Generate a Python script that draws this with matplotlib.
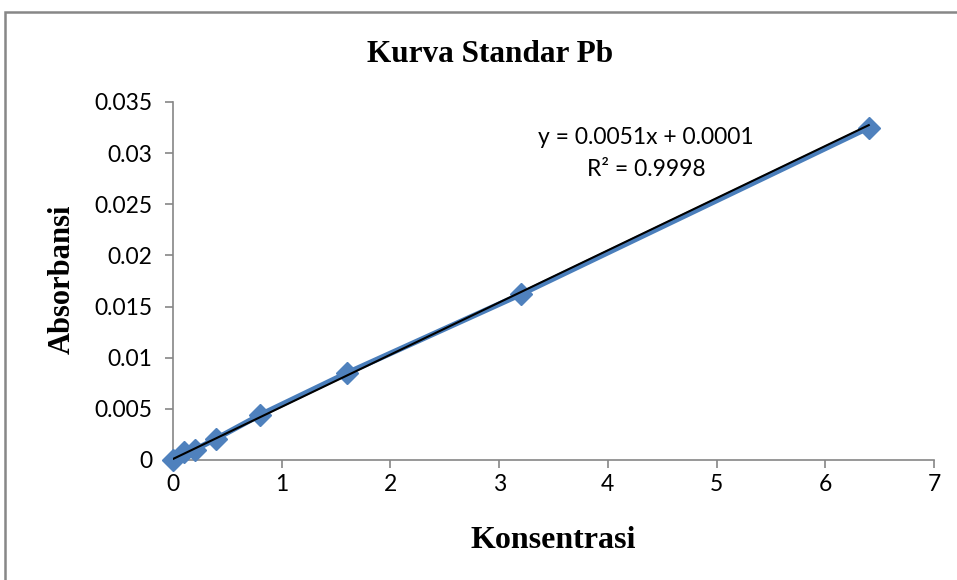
import matplotlib
matplotlib.use("Agg")
import matplotlib.pyplot as plt
from matplotlib.patches import Rectangle
from matplotlib.ticker import FuncFormatter
import numpy as np

konsentrasi = [0, 0.1, 0.2, 0.4, 0.8, 1.6, 3.2, 6.4]
absorbansi = [0.0, 0.0008, 0.0010, 0.0021, 0.0044, 0.0085, 0.0162, 0.0325]
slope, intercept = 0.0051, 0.0001
eq_text = "y = 0.0051x + 0.0001"
r2_text = "R² = 0.9998"
title = "Kurva Standar Pb"
xlabel = "Konsentrasi"
ylabel = "Absorbansi"
xticks = [0, 1, 2, 3, 4, 5, 6, 7]
yticks = [0, 0.005, 0.01, 0.015, 0.02, 0.025, 0.03, 0.035]

W, H = 957, 580
fig = plt.figure(figsize=(W / 100, H / 100), dpi=100)
fig.patches.append(Rectangle((5 / W, -0.1), 1.2, 1 - 12 / H + 0.1, transform=fig.transFigure,
                             fill=False, edgecolor="#878787", linewidth=1.8, zorder=0))

ax = fig.add_axes([173 / W, 1 - 460 / H, (934 - 173) / W, (460 - 102) / H])
blue = "#4A7EBB"
ax.plot(konsentrasi, absorbansi, color=blue, lw=4, marker="D", markersize=11,
        markerfacecolor="#4F81BD", markeredgecolor="#4F81BD", zorder=3, clip_on=False)
xs = np.array([0, max(konsentrasi)])
ax.plot(xs, slope * xs + intercept, color="black", lw=1.5, zorder=4)

ax.set_xlim(0, 7)
ax.set_ylim(0, 0.035)
ax.set_xticks(xticks)
ax.set_yticks(yticks)
ax.xaxis.set_major_formatter(FuncFormatter(lambda v, p: f"{v:g}"))
ax.yaxis.set_major_formatter(FuncFormatter(lambda v, p: f"{v:g}"))
for s in ["top", "right"]:
    ax.spines[s].set_visible(False)
for s in ["left", "bottom"]:
    ax.spines[s].set_color("#868686")
    ax.spines[s].set_linewidth(1.2)
ax.tick_params(axis="both", colors="#868686", length=6, width=1.2, labelcolor="black",
               labelsize=16.5)
for lab in ax.get_xticklabels() + ax.get_yticklabels():
    lab.set_fontfamily("Lato")
ax.tick_params(axis="x", pad=4)
ax.tick_params(axis="y", pad=9)

fig.text(490 / W, 1 - 55 / H, title, ha="center", va="center", fontsize=22.5,
         fontweight="bold", family="Liberation Serif")
fig.text(553 / W, 1 - 540 / H, xlabel, ha="center", va="center", fontsize=23,
         fontweight="bold", family="Liberation Serif")
fig.text(62 / W, 1 - 279 / H, ylabel, ha="center", va="center", fontsize=22,
         fontweight="bold", family="Liberation Serif", rotation=90)
fig.text(646 / W, 1 - 137 / H, eq_text, ha="center", va="center", fontsize=16.5, family="Lato")
fig.text(646 / W, 1 - 170 / H, r2_text, ha="center", va="center", fontsize=16.5, family="Lato")

fig.savefig("out.png", dpi=100)
